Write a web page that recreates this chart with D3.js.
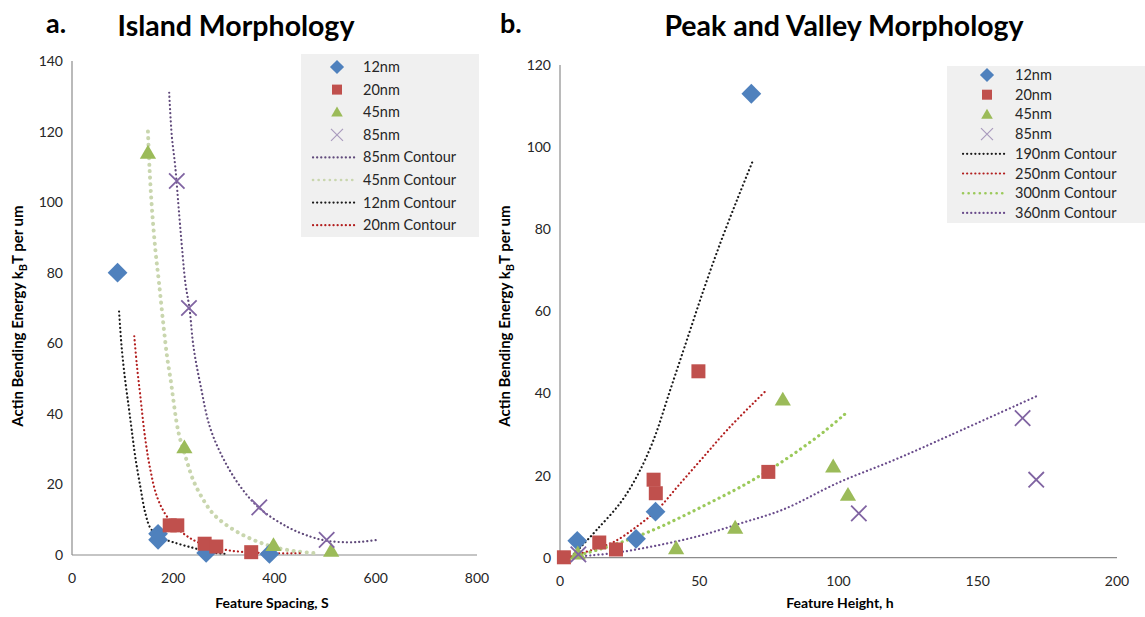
<!DOCTYPE html>
<html>
<head>
<meta charset="utf-8">
<script src="https://cdn.jsdelivr.net/npm/d3@7"></script>
<style>
  body { margin: 0; background: #fff; }
  text { font-family: Lato, 'Open Sans', sans-serif; }
</style>
</head>
<body>
<svg id="chart" width="1145" height="617"></svg>
<script>
// ---- data ----
// a. Island Morphology : feature spacing S vs bending energy
const islandSeries = ['12nm', '20nm', '45nm', '85nm'];
const island12 = [[90, 80], [170, 6], [170, 4.3], [265, 0.6], [390, 0.3]];
const island20 = [[193, 8.4], [208, 8.4], [262, 3.2], [285, 2.4], [354, 0.8]];
const island45 = [[150, 114], [222, 30.5], [398, 2.8], [512, 1.2]];
const island85 = [[207, 106], [231, 70], [370, 13.5], [503, 4.3]];

const islandContourNames = ['85nm Contour', '45nm Contour', '12nm Contour', '20nm Contour'];
const islandC85 = [[192, 131], [197, 119], [204, 110], [212, 96], [218, 86], [224, 77], [232, 70], [240, 59],
  [254, 48], [273, 36], [300, 27], [333, 19.3], [370, 13.3], [425, 8], [471, 5.2], [505, 4], [545, 3.6], [575, 3.8], [605, 4.3]];
const islandC45 = [[150, 120], [153, 110], [158, 98], [165, 86], [172, 77], [180, 66], [188, 56], [195, 49.5],
  [210, 35], [225, 27.5], [240, 21], [260, 15.5], [280, 11.5], [310, 8], [340, 5.5], [370, 3.6], [400, 2.2], [440, 1.1], [480, 0.5]];
const islandC12 = [[93, 69], [98, 59], [105, 49.6], [112, 42], [118, 35.4], [125, 27.8], [135, 19.3], [145, 11.8],
  [155, 7.6], [172, 5.2], [207, 3.3], [240, 2], [267, 0.9], [306, 0.3]];
const islandC20 = [[123, 62], [128, 54], [135, 45], [145, 32.6], [155, 24], [168, 16.5], [188, 10.8], [220, 6.1],
  [254, 3.3], [306, 1.4], [372, 0.6], [450, 0.5]];

// b. Peak and Valley Morphology : feature height h vs bending energy
const peakSeries = ['12nm', '20nm', '45nm', '85nm'];
const peak12 = [[6.2, 4.1], [27.3, 4.6], [34.3, 11.2], [68.7, 113]];
const peak20 = [[1.4, 0.1], [14.1, 3.7], [20.1, 2], [33.6, 19], [34.4, 15.7], [49.7, 45.4], [74.8, 20.9]];
const peak45 = [[6.4, 1], [41.7, 2.3], [62.9, 7.3], [80, 38.5], [98.1, 22.2], [103.4, 15.3]];
const peak85 = [[6.6, 0.8], [107.3, 10.8], [166.1, 34], [171, 19]];

const peakContourNames = ['190nm Contour', '250nm Contour', '300nm Contour', '360nm Contour'];
const peakC190 = [[4, 0.2], [8, 3], [13.2, 6.8], [21.6, 13.3], [27.6, 19.8], [33.6, 28.7], [39.6, 40.9],
  [45.6, 53.1], [51.6, 65.3], [57.6, 76.7], [63.6, 87.2], [69.2, 96.6]];
const peakC250 = [[4, 0.3], [12, 2], [19.2, 3.8], [27.6, 7.6], [34.8, 11.6], [43.2, 18.1], [51.6, 24.6],
  [60, 31.1], [69.5, 37.7], [74.3, 40.9]];
const peakC300 = [[5, 0.3], [15, 2.2], [25, 4.5], [35, 7.2], [45, 10.4], [55, 13.8], [65, 17.3], [75, 21.3],
  [85, 25.8], [95, 30.8], [103, 35.4]];
const peakC360 = [[5, 0.2], [20, 1.2], [35, 3], [50, 5.3], [65, 8.4], [80, 11.7], [100, 18.3], [120, 23.8],
  [140, 29.8], [171, 39.3]];

const islandXTicks = [0, 200, 400, 600, 800];
const islandYTicks = [0, 20, 40, 60, 80, 100, 120, 140];
const peakXTicks = [0, 50, 100, 150, 200];
const peakYTicks = [0, 20, 40, 60, 80, 100, 120];

// ---- styles ----
const markerColors = ['#4F81BD', '#C0504D', '#9BBB59', '#8064A2'];
const markerTypes = ['diamond', 'square', 'triangle', 'cross'];
const islandContourStyle = [
  { color: '#604A7B', width: 2.2, dash: '0.1 4' },
  { color: '#C9D6AE', width: 4, dash: '0.1 6.5' },
  { color: '#1a1a1a', width: 2.2, dash: '0.1 4' },
  { color: '#B21E1E', width: 2.2, dash: '0.1 4' }
];
const peakContourStyle = [
  { color: '#1a1a1a', width: 2.2, dash: '0.1 4' },
  { color: '#B21E1E', width: 2.2, dash: '0.1 4' },
  { color: '#9BC95A', width: 3.2, dash: '0.1 5.5' },
  { color: '#6A4C8C', width: 2.2, dash: '0.1 4' }
];

const svg = d3.select('#chart');

function marker(g, type, color, x, y, size) {
  if (type === 'diamond') {
    g.append('path')
      .attr('d', d3.symbol(d3.symbolSquare, size * size)())
      .attr('transform', `translate(${x},${y}) rotate(45)`)
      .style('fill', color);
  } else if (type === 'square') {
    g.append('rect')
      .attr('x', x - size / 2).attr('y', y - size / 2)
      .attr('width', size).attr('height', size)
      .style('fill', color);
  } else if (type === 'triangle') {
    const h = size * 0.95;
    g.append('path')
      .attr('d', `M${x},${y - h * 0.6}L${x + size * 0.58},${y + h * 0.45}L${x - size * 0.58},${y + h * 0.45}Z`)
      .style('fill', color);
  } else {
    const r = size * 0.55;
    g.append('path')
      .attr('d', `M${x - r},${y - r}L${x + r},${y + r}M${x - r},${y + r}L${x + r},${y - r}`)
      .style('stroke', color)
      .style('stroke-width', 1.8)
      .style('fill', 'none');
  }
}

function drawPanel(cfg) {
  const x = d3.scaleLinear().domain(cfg.xDomain).range(cfg.xRange);
  const y = d3.scaleLinear().domain(cfg.yDomain).range(cfg.yRange);
  const g = svg.append('g');

  // axes lines
  g.append('line')
    .attr('x1', cfg.xRange[0]).attr('x2', cfg.xRange[0])
    .attr('y1', cfg.yRange[0]).attr('y2', cfg.yRange[1])
    .style('stroke', '#8c8c8c').style('stroke-width', 1.2);
  g.append('line')
    .attr('x1', cfg.xRange[0]).attr('x2', cfg.xRange[1])
    .attr('y1', cfg.yRange[0]).attr('y2', cfg.yRange[0])
    .style('stroke', '#8c8c8c').style('stroke-width', 1.2);

  g.selectAll('.yt').data(cfg.yTicks).enter().append('text')
    .attr('x', cfg.xRange[0] - 9)
    .attr('y', d => y(d) + 5)
    .attr('text-anchor', 'end')
    .style('font-size', '14px').style('fill', '#262626')
    .text(d => d);
  g.selectAll('.xt').data(cfg.xTicks).enter().append('text')
    .attr('x', d => x(d))
    .attr('y', cfg.yRange[0] + 28)
    .attr('text-anchor', 'middle')
    .style('font-size', '14px').style('fill', '#262626')
    .text(d => d);

  // contours
  const line = d3.line().x(d => x(d[0])).y(d => y(d[1])).curve(d3.curveCatmullRom);
  cfg.contours.forEach((c, i) => {
    const st = cfg.contourStyle[i];
    g.append('path')
      .attr('d', line(c))
      .style('fill', 'none')
      .style('stroke', st.color)
      .style('stroke-width', st.width)
      .style('stroke-dasharray', st.dash)
      .style('stroke-linecap', 'round');
  });

  // markers
  cfg.series.forEach((s, i) => {
    s.forEach(p => marker(g, markerTypes[i], markerColors[i], x(p[0]), y(p[1]), 14));
  });

  // legend
  const L = cfg.legend;
  g.append('rect')
    .attr('x', L.x).attr('y', L.y).attr('width', L.w).attr('height', L.h)
    .style('fill', '#f0f0f0');
  cfg.seriesNames.forEach((name, i) => {
    const cy = L.y + L.first + i * L.step;
    if (i < 3) marker(g, markerTypes[i], markerColors[i], L.sym, cy, 10);
    else {
      const r = 6;
      g.append('path')
        .attr('d', `M${L.sym - r},${cy - r}L${L.sym + r},${cy + r}M${L.sym - r},${cy + r}L${L.sym + r},${cy - r}`)
        .style('stroke', '#a99bbd').style('stroke-width', 1.2);
    }
    g.append('text').attr('x', L.text).attr('y', cy + 5)
      .style('font-size', '14.5px').style('fill', '#262626').text(name);
  });
  cfg.contourNames.forEach((name, i) => {
    const cy = L.y + L.first + (i + 4) * L.step;
    const st = cfg.contourStyle[i];
    g.append('line')
      .attr('x1', L.sym - 24).attr('x2', L.sym + 20)
      .attr('y1', cy).attr('y2', cy)
      .style('stroke', st.color)
      .style('stroke-width', Math.min(st.width, 2.6))
      .style('stroke-dasharray', st.width > 3 ? '0.1 5.5' : '0.1 4')
      .style('stroke-linecap', 'round');
    g.append('text').attr('x', L.text).attr('y', cy + 5)
      .style('font-size', '14.5px').style('fill', '#262626').text(name);
  });

  // titles & axis titles
  g.append('text').attr('x', cfg.letterX).attr('y', 33)
    .style('font-size', '27px').style('font-weight', 'bold').text(cfg.letter);
  g.append('text').attr('x', cfg.titleX).attr('y', 36)
    .attr('text-anchor', 'middle')
    .style('font-size', '28.5px').style('font-weight', 'bold').text(cfg.title);
  g.append('text').attr('x', cfg.xTitleX).attr('y', 608)
    .attr('text-anchor', 'middle')
    .style('font-size', '14px').style('font-weight', 'bold').text(cfg.xTitle);

  const yt = g.append('text')
    .attr('transform', `translate(${cfg.yTitleX},316) rotate(-90)`)
    .attr('text-anchor', 'middle')
    .style('font-size', '15px').style('font-weight', 'bold');
  yt.append('tspan').text('Actin Bending Energy k');
  yt.append('tspan').attr('dy', 4).style('font-size', '11px').text('B');
  yt.append('tspan').attr('dy', -4).text('T per um');
}

drawPanel({
  xDomain: [0, 800], xRange: [72, 477],
  yDomain: [0, 140], yRange: [555, 61],
  xTicks: islandXTicks, yTicks: islandYTicks,
  series: [island12, island20, island45, island85],
  seriesNames: islandSeries,
  contours: [islandC85, islandC45, islandC12, islandC20],
  contourNames: islandContourNames,
  contourStyle: islandContourStyle,
  legend: { x: 301, y: 54, w: 178, h: 183, first: 13, step: 22.6, sym: 337, text: 363 },
  letter: 'a.', letterX: 46, title: 'Island Morphology', titleX: 236,
  xTitle: 'Feature Spacing, S', xTitleX: 272, yTitleX: 23
});

drawPanel({
  xDomain: [0, 200], xRange: [560, 1117],
  yDomain: [0, 120], yRange: [557.7, 65],
  xTicks: peakXTicks, yTicks: peakYTicks,
  series: [peak12, peak20, peak45, peak85],
  seriesNames: peakSeries,
  contours: [peakC190, peakC250, peakC300, peakC360],
  contourNames: peakContourNames,
  contourStyle: peakContourStyle,
  legend: { x: 947, y: 66, w: 198, h: 157, first: 9, step: 19.7, sym: 987, text: 1015 },
  letter: 'b.', letterX: 500, title: 'Peak and Valley Morphology', titleX: 844,
  xTitle: 'Feature Height, h', xTitleX: 840, yTitleX: 510
});
</script>
</body>
</html>
